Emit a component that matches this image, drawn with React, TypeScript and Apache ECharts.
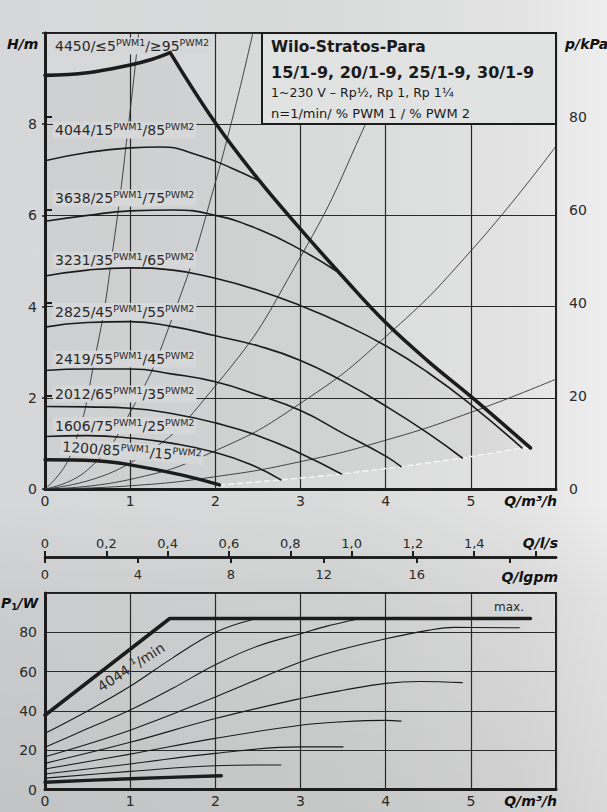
import React, { useEffect, useRef } from 'react';
import * as echarts from 'echarts';

// ---------- Top chart (H/m vs Q/m³/h) ----------
const maxRise = [[0, 9.07], [0.5, 9.13], [1, 9.3], [1.25, 9.42], [1.47, 9.57]];
const maxFall = [[1.47, 9.57], [2, 8.03], [2.5, 6.8], [3, 5.7], [3.5, 4.65], [4, 3.65], [4.5, 2.8], [5, 2.03], [5.7, 0.9]];
const h4044 = [[0, 7.2], [0.5, 7.38], [1, 7.48], [1.35, 7.5], [1.8, 7.32], [2.2, 7.03], [2.55, 6.72]];
const h3638 = [[0, 5.87], [0.5, 6.0], [1, 6.1], [1.5, 6.12], [2, 6.0], [2.5, 5.7], [3, 5.25], [3.42, 4.78]];
const h3231 = [[0, 4.67], [0.5, 4.8], [1, 4.85], [1.5, 4.8], [2, 4.62], [2.5, 4.36], [3, 4.02], [3.5, 3.62], [4, 3.14], [4.5, 2.55], [5, 1.85], [5.6, 0.9]];
const h2825 = [[0, 3.55], [0.5, 3.65], [1, 3.67], [1.5, 3.56], [2, 3.36], [2.5, 3.14], [3, 2.82], [3.5, 2.36], [4, 1.82], [4.5, 1.22], [4.9, 0.68]];
const h2419 = [[0, 2.6], [0.5, 2.63], [1, 2.63], [1.5, 2.52], [2, 2.35], [2.5, 2.06], [3, 1.72], [3.5, 1.22], [4, 0.72], [4.18, 0.49]];
const h2012 = [[0, 1.81], [0.5, 1.8], [1, 1.77], [1.5, 1.65], [2, 1.45], [2.5, 1.17], [3, 0.78], [3.48, 0.33]];
const h1606 = [[0, 1.15], [0.5, 1.17], [1, 1.12], [1.5, 1.0], [2, 0.8], [2.4, 0.55], [2.77, 0.2]];
const h1200 = [[0, 0.64], [0.6, 0.62], [1, 0.53], [1.6, 0.31], [2.05, 0.09]];
const curveEnds = [[2.05, 0.09], [2.77, 0.2], [3.48, 0.33], [4.18, 0.49], [4.9, 0.68], [5.6, 0.9], [5.7, 0.9]];

const sys1 = [[0, 0], [0.3, 0.75], [0.6, 3.0], [0.8, 5.3], [1.0, 8.3], [1.1, 10.0]];
const sys2 = [[0, 0], [0.5, 0.42], [1, 1.68], [1.5, 3.78], [2, 6.72], [2.44, 10.0]];
const sys3 = [[0, 0], [1, 0.57], [2, 2.26], [3, 5.09], [3.77, 8.03], [4.2, 10.0]];
const sys4 = [[0, 0], [1, 0.21], [2, 0.84], [3, 1.88], [4, 3.34], [5, 5.22], [6, 7.52]];
const sys5 = [[0, 0], [1, 0.07], [2, 0.27], [3, 0.6], [4, 1.07], [5, 1.68], [6, 2.41]];

const speedLabels = ['4450', '4044', '3638', '3231', '2825', '2419', '2012', '1606', '1200'];
const pwm1Labels = ['≤5', '15', '25', '35', '45', '55', '65', '75', '85'];
const pwm2Labels = ['≥95', '85', '75', '65', '55', '45', '35', '25', '15'];

// ---------- Bottom chart (P1/W vs Q) ----------
const pMax = [[0, 37.8], [1.465, 87], [5.7, 87]];
const p4044 = [[0, 28.6], [0.5, 40], [1, 52.5], [1.5, 67], [2, 80], [2.44, 86.5]];
const p3638 = [[0, 21.5], [0.5, 31], [1, 40.4], [1.5, 51.5], [2, 63.5], [2.5, 73], [3, 79.3], [3.3, 83], [3.65, 86.5]];
const p3231 = [[0, 16.7], [1, 30.2], [2, 47.1], [3, 64.9], [3.5, 71.5], [4, 76.7], [4.5, 81], [4.8, 82.5], [5.57, 82.3]];
const p2825 = [[0, 13.3], [1, 24], [2, 36.1], [3, 46.3], [3.5, 50.5], [4, 54], [4.4, 55], [4.9, 54.4]];
const p2419 = [[0, 10.4], [1, 18], [2, 26], [3, 32.7], [3.5, 34.5], [4, 35.2], [4.18, 34.8]];
const p2012 = [[0, 7.9], [1, 13], [2, 18.4], [3, 21.7], [3.5, 21.7]];
const p1606 = [[0, 5.8], [1, 9.2], [2, 12.1], [2.77, 12.5]];
const p1200 = [[0, 3.7], [1, 5.5], [2.07, 7]];

// unit conversions for secondary axes
const M3H_PER_LS = 3.6;
const M3H_PER_IGPM = 0.27277;
const Q_MAX = 6;

const FONT = 'DejaVu Sans';
const INK = '#1c1c1c';
const TXT = '#2a2a2a';
const LABEL_BG = '#d6d7d8';

export default function App() {
  const ref = useRef<HTMLDivElement>(null);
  useEffect(() => {
    if (!ref.current) return;
    const chart = echarts.init(ref.current, undefined, { renderer: 'svg' });

    const shadePoly = [...maxRise, ...maxFall.slice(1), ...curveEnds.slice().reverse(), [2.05, 0], [0, 0]];

    const line = (data: number[][], width: number, z: number, smooth: number | boolean, xi = 0, yi = 0, color = INK, extra: any = {}) => ({
      type: 'line', data, xAxisIndex: xi, yAxisIndex: yi, showSymbol: false, symbol: 'none', smooth,
      lineStyle: { width, color, cap: 'round', ...extra }, z, silent: true,
    });

    const labelEls = speedLabels.map((s, i) => {
      const last = i === speedLabels.length - 1;
      const ys = [46, 130, 198, 260, 311.5, 359, 394, 425.5, 451.5];
      return {
        type: 'text', z: 5,
        x: last ? 132 : 53, y: ys[i],
        rotation: last ? -0.07 : 0,
        style: {
          text: `{m|${s}/${pwm1Labels[i]}}{s|PWM1}{m|/${pwm2Labels[i]}}{s|PWM2}`,
          align: last ? 'center' : 'left', verticalAlign: 'middle',
          backgroundColor: LABEL_BG, padding: [0, 2, 0, 2],
          rich: {
            m: { fontSize: 14, fontFamily: FONT, fill: TXT, lineHeight: 17 },
            s: { fontSize: 9.5, fontFamily: FONT, fill: TXT, lineHeight: 8, verticalAlign: 'top' },
          },
        },
      };
    });

    const nameStyle = (text: string, x: number, y: number, align = 'left') => ({
      type: 'text', z: 30, x, y,
      style: { text, align, verticalAlign: 'middle', fontFamily: FONT, fontSize: 14, fontWeight: 'bold', fontStyle: 'italic', fill: '#111' },
    });

    const option: any = {
      animation: false,
      backgroundColor: 'transparent',
      grid: [
        { left: 45, top: 33, width: 511, height: 456, show: true, borderColor: INK, borderWidth: 2, backgroundColor: 'transparent' },
        { left: 45, top: 593, width: 511, height: 196.5, show: true, borderColor: INK, borderWidth: 2, backgroundColor: 'transparent' },
      ],
      xAxis: [
        {
          gridIndex: 0, type: 'value', min: 0, max: Q_MAX, interval: 1,
          axisLine: { show: true, lineStyle: { color: INK, width: 3 } },
          axisTick: { show: false },
          axisLabel: { margin: 5, fontSize: 14, fontFamily: FONT, color: TXT, formatter: (v: number) => (v >= 6 ? '' : String(v)) },
          splitLine: { show: true, lineStyle: { color: '#2a2a2a', width: 1.2 } },
        },
        {
          gridIndex: 0, type: 'value', position: 'bottom', offset: 68, min: 0, max: Q_MAX / M3H_PER_LS, interval: 0.2,
          axisLine: { show: true, onZero: false, lineStyle: { color: INK, width: 2.5 } },
          axisTick: { show: true, inside: true, length: 6, lineStyle: { color: INK, width: 2 } },
          axisLabel: { inside: true, margin: 7, fontSize: 13, fontFamily: FONT, color: TXT, showMaxLabel: false,
            formatter: (v: number) => (v > 1.5 ? '' : v === 0 ? '0' : v.toFixed(1).replace('.', ',')) },
          splitLine: { show: false },
        },
        {
          gridIndex: 0, type: 'value', position: 'bottom', offset: 68, min: 0, max: Q_MAX / M3H_PER_IGPM, interval: 4,
          axisLine: { show: true, onZero: false, lineStyle: { color: INK, width: 2.5 } },
          axisTick: { show: true, length: 6, lineStyle: { color: INK, width: 2 } },
          axisLabel: { margin: 11, fontSize: 13, fontFamily: FONT, color: TXT, showMaxLabel: false,
            formatter: (v: number) => (v >= 20 ? '' : String(v)) },
          splitLine: { show: false },
        },
        {
          gridIndex: 1, type: 'value', min: 0, max: Q_MAX, interval: 1,
          axisLine: { show: true, lineStyle: { color: INK, width: 3 } },
          axisTick: { show: false },
          axisLabel: { margin: 4, fontSize: 14, fontFamily: FONT, color: TXT, formatter: (v: number) => (v >= 6 ? '' : String(v)) },
          splitLine: { show: true, lineStyle: { color: '#2a2a2a', width: 1.2 } },
        },
      ],
      yAxis: [
        {
          gridIndex: 0, type: 'value', min: 0, max: 10, interval: 2,
          axisLine: { show: true, lineStyle: { color: INK, width: 3 } },
          axisTick: { show: true, length: 3, lineStyle: { color: INK, width: 1.5 } },
          axisLabel: { margin: 8, fontSize: 14, fontFamily: FONT, color: TXT, formatter: (v: number) => (v >= 10 ? '' : String(v)) },
          splitLine: { show: true, lineStyle: { color: '#2a2a2a', width: 1.2 } },
        },
        {
          gridIndex: 0, type: 'value', position: 'right', min: 0, max: 98, interval: 20,
          axisLine: { show: true, lineStyle: { color: INK, width: 2.5 } },
          axisTick: { show: true, length: 7, lineStyle: { color: INK, width: 2 } },
          axisLabel: { margin: 13, fontSize: 14, fontFamily: FONT, color: TXT, showMaxLabel: false,
            formatter: (v: number) => (v > 80 ? '' : String(v)) },
          splitLine: { show: false },
        },
        {
          gridIndex: 1, type: 'value', min: 0, max: 100, interval: 20,
          axisLine: { show: true, lineStyle: { color: INK, width: 3 } },
          axisTick: { show: false },
          axisLabel: { margin: 8, fontSize: 14, fontFamily: FONT, color: TXT, formatter: (v: number) => (v >= 100 ? '' : String(v)) },
          splitLine: { show: true, lineStyle: { color: '#2a2a2a', width: 1.2 } },
        },
      ],
      series: [
        {
          type: 'custom', xAxisIndex: 0, yAxisIndex: 0, data: shadePoly, z: 1, silent: true,
          renderItem: (params: any, api: any) => {
            if (params.dataIndex !== 0) return null;
            return { type: 'polygon', shape: { points: shadePoly.map((p) => api.coord(p)) }, style: { fill: 'rgba(0,0,0,0.035)' } };
          },
        },
        ...[sys1, sys2, sys3, sys4, sys5].map((d) => line(d, 0.9, 2, true, 0, 0, '#333')),
        line(curveEnds, 1.4, 9, false, 0, 0, '#f6f6f6', { type: [5, 4] }),
        line(maxRise, 3.6, 12, 0.4),
        line(maxFall, 3.6, 12, 0.4),
        ...[h4044, h3638, h3231, h2825, h2419, h2012, h1606].map((d) => line(d, 1.6, 10, 0.5)),
        line(h1200, 3.4, 12, 0.4),
        line(pMax, 3.6, 12, false, 3, 2),
        ...[p4044, p3638, p3231, p2825, p2419, p2012, p1606].map((d) => line(d, 1.1, 10, 0.4, 3, 2, '#1a1a1a')),
        line(p1200, 3.4, 12, 0.3, 3, 2),
      ],
      graphic: {
        elements: [
          { type: 'rect', z: 20, shape: { x: 262, y: 33, width: 294, height: 91 }, style: { fill: '#e1e2e2', stroke: INK, lineWidth: 2 } },
          { type: 'text', z: 21, x: 271, y: 47, style: { text: 'Wilo-Stratos-Para', verticalAlign: 'middle', fontFamily: FONT, fontSize: 15.5, fontWeight: 'bold', fill: '#1a1a1a' } },
          { type: 'text', z: 21, x: 271, y: 72, style: { text: '15/1-9, 20/1-9, 25/1-9, 30/1-9', verticalAlign: 'middle', fontFamily: FONT, fontSize: 16, fontWeight: 'bold', fill: '#1a1a1a' } },
          { type: 'text', z: 21, x: 271, y: 92.5, style: { text: '1~230 V – Rp½, Rp 1, Rp 1¼', verticalAlign: 'middle', fontFamily: FONT, fontSize: 12.5, fill: '#1a1a1a' } },
          { type: 'text', z: 21, x: 271, y: 113, style: { text: 'n=1/min/ % PWM 1 / % PWM 2', verticalAlign: 'middle', fontFamily: FONT, fontSize: 13, fill: '#1a1a1a' } },
          ...labelEls,
          nameStyle('H/m', 7, 44),
          nameStyle('p/kPa', 565, 44),
          nameStyle('Q/m³/h', 557, 501, 'right'),
          nameStyle('Q/l/s', 558, 543, 'right'),
          nameStyle('Q/lgpm', 558, 577, 'right'),
          nameStyle('Q/m³/h', 557, 801, 'right'),
          {
            type: 'text', z: 30, x: 1, y: 603,
            style: {
              text: '{b|P}{u|1}{b|/W}', verticalAlign: 'middle',
              rich: {
                b: { fontFamily: FONT, fontSize: 14, fontWeight: 'bold', fontStyle: 'italic', fill: '#111', lineHeight: 16 },
                u: { fontFamily: FONT, fontSize: 9, fontWeight: 'bold', fill: '#111', lineHeight: 8, verticalAlign: 'bottom' },
              },
            },
          },
          { type: 'text', z: 30, x: 494, y: 607, style: { text: 'max.', verticalAlign: 'middle', fontFamily: FONT, fontSize: 12, fill: TXT } },
          {
            type: 'text', z: 30, x: 131, y: 667, rotation: 0.576,
            style: {
              text: '{m|4044 }{s|1}{m|/min}', align: 'center', verticalAlign: 'middle',
              rich: {
                m: { fontFamily: FONT, fontSize: 14, fill: TXT, lineHeight: 17 },
                s: { fontFamily: FONT, fontSize: 9, fill: TXT, lineHeight: 8, verticalAlign: 'top' },
              },
            },
          },
        ],
      },
    };

    chart.setOption(option);
    return () => chart.dispose();
  }, []);

  return (
    <div
      style={{
        position: 'fixed', left: 0, top: 0, width: 607, height: 812,
        background:
          'linear-gradient(180deg, rgba(0,0,0,0) 0%, rgba(0,0,0,0) 62%, rgba(0,0,0,0.05) 74%, rgba(0,0,0,0.09) 100%), linear-gradient(90deg, #d6d7d8 0%, #d9dada 55%, #e3e3e3 85%, #eeeeee 100%)',
      }}
    >
      <div ref={ref} style={{ width: 607, height: 812 }} />
    </div>
  );
}
